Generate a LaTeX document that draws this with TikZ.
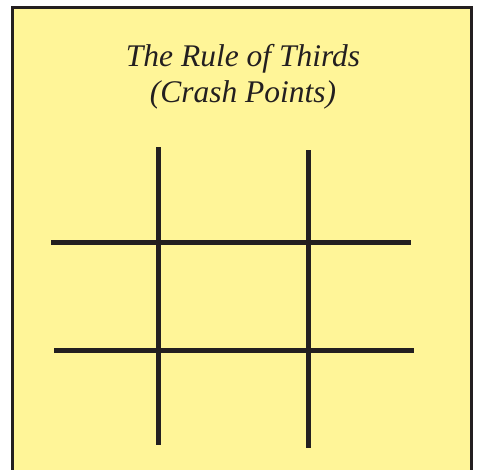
\documentclass[tikz,border=0pt]{standalone}
\usepackage{fontspec}
\setmainfont{Liberation Serif}
\definecolor{padyellow}{RGB}{255,245,152}
\definecolor{inkblack}{RGB}{35,31,32}
\tikzset{gridline/.style={draw=inkblack,line width=5pt}}

\begin{document}
\begin{tikzpicture}[x=1pt,y=-1pt]
\useasboundingbox (0,0) rectangle (479,469);
\clip (0,0) rectangle (479,469);

% the yellow card
\filldraw[fill=padyellow,draw=inkblack,line width=3pt] (12.5,7.5) rectangle (471.5,480);

% title
\node[font=\itshape\fontsize{31.5}{36}\selectfont,text=inkblack,align=center] (title) at (243,77) {The Rule of Thirds\\(Crash Points)};

% end points of the grid lines
\coordinate (v1t) at (158.5,147);
\coordinate (v1b) at (158.5,445);
\coordinate (v2t) at (308.5,150);
\coordinate (v2b) at (308.5,448);
\coordinate (h1l) at (51,242.5);
\coordinate (h1r) at (411,242.5);
\coordinate (h2l) at (54,350.5);
\coordinate (h2r) at (414,350.5);

\foreach \a\b in {v1t/v1b,v2t/v2b,h1l/h1r,h2l/h2r}
  \path[gridline] (\a) edge (\b);

\end{tikzpicture}
\end{document}
